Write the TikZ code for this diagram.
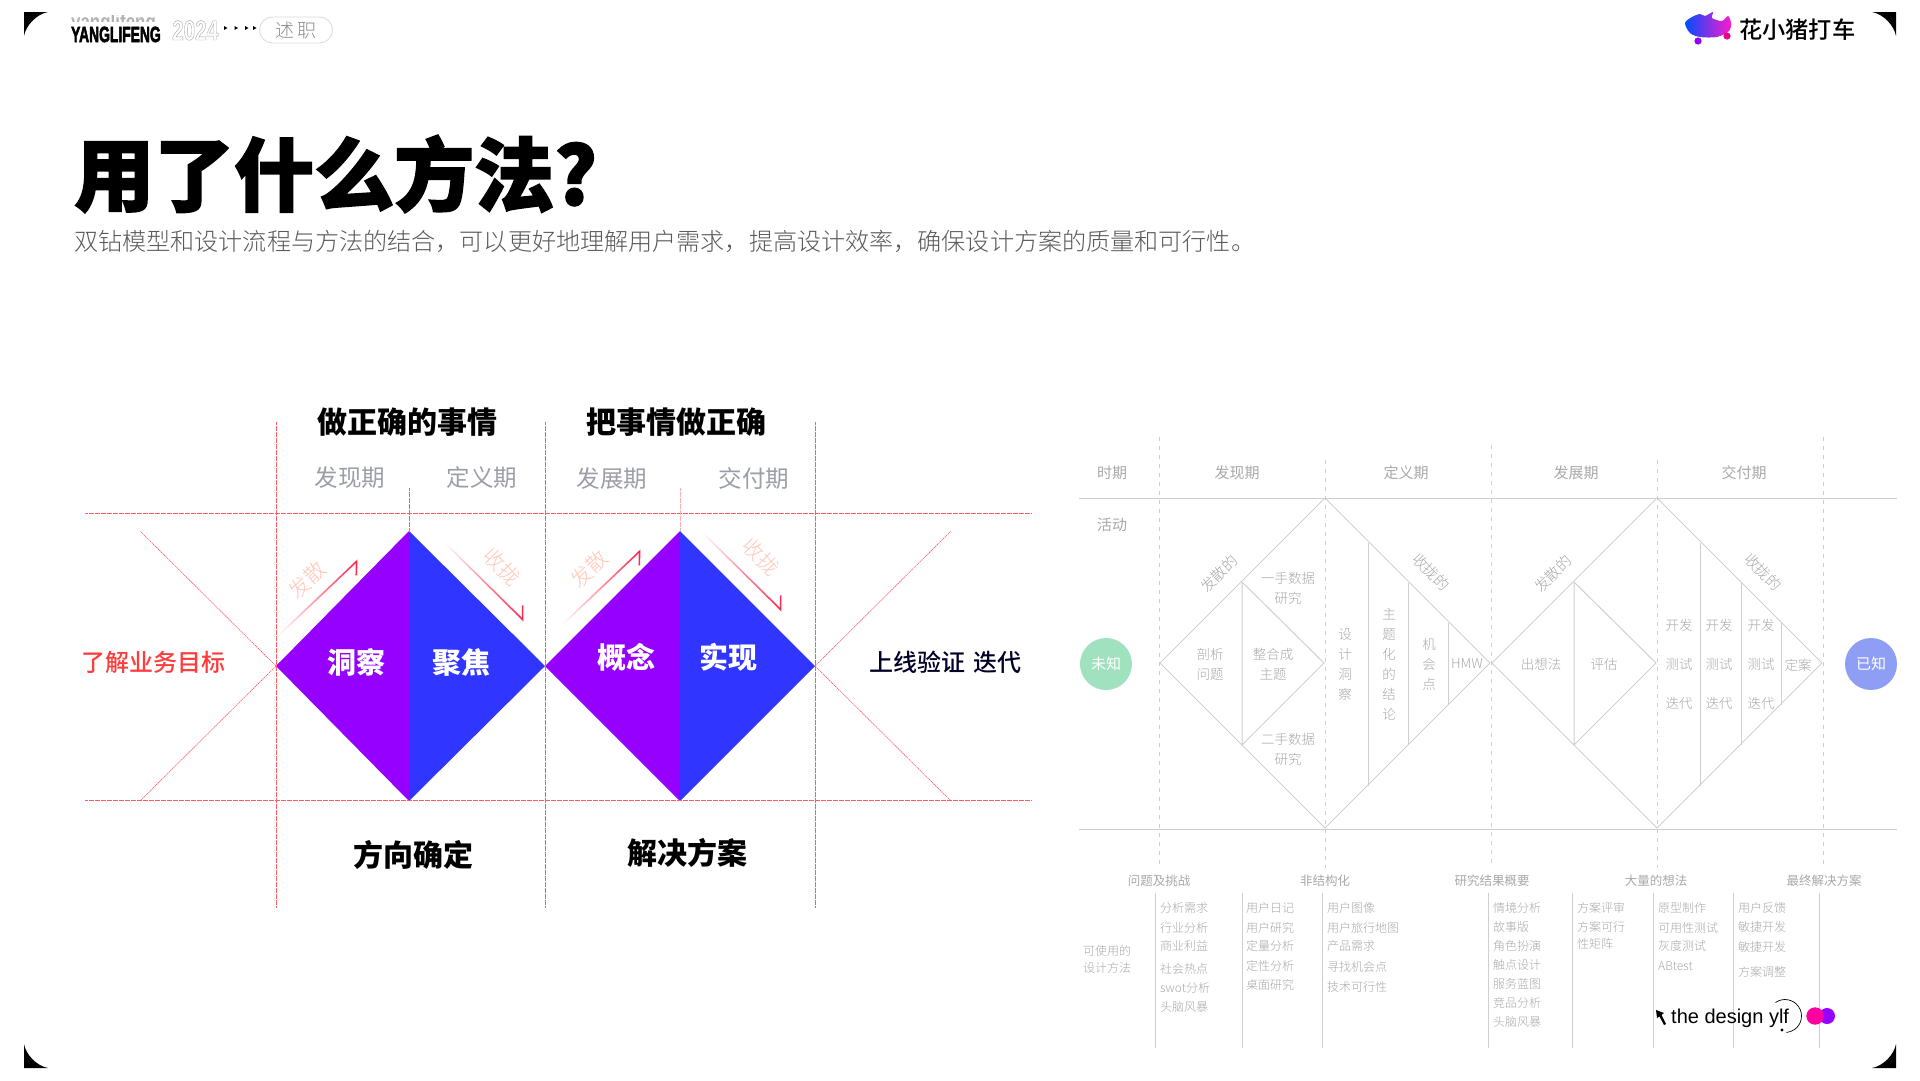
\documentclass[tikz,border=0pt]{standalone}
\usepackage{fontspec}
\setmainfont{Noto Sans CJK SC}
\newfontfamily\heavyfont{Noto Sans CJK SC Black}[FakeBold=2]
\newfontfamily\mediumfont{Noto Sans CJK SC Medium}
\newfontfamily\lightfont{Noto Sans CJK SC Light}
\newfontfamily\latinfont{Liberation Sans}
\usetikzlibrary{arrows.meta,positioning,shapes.geometric,fadings}
\definecolor{violetfill}{HTML}{9500FF}
\definecolor{bluefill}{HTML}{3035FF}
\definecolor{guidered}{HTML}{FF5A60}
\definecolor{trendred}{HTML}{FF1F48}
\definecolor{hintpink}{HTML}{FFC6B8}
\definecolor{softgray}{HTML}{9A9EA8}
\definecolor{palegray}{HTML}{A8A8A8}
\definecolor{ruleline}{HTML}{CFCFCF}
\definecolor{goalred}{HTML}{FF3C3C}
\definecolor{unknownfill}{HTML}{A0E1BF}
\definecolor{knownfill}{HTML}{8F9EF5}
\definecolor{dotpink}{HTML}{FF00A0}
\tikzfading[name=fadein, left color=transparent!100, right color=transparent!0]

\begin{document}
\begin{tikzpicture}[
    x=1pt, y=-1pt,
    guide/.style={draw=guidered, line width=0.8pt, dash pattern=on 0.8pt off 0.4pt},
    cross/.style={draw=guidered, line width=0.6pt, dash pattern=on 1.5pt off 0.7pt},
    trendarrow/.style={draw=trendred, line width=1.6pt, path fading=fadein},
    rule/.style={draw=ruleline, line width=1pt},
    dashrule/.style={draw=ruleline, line width=1pt, dash pattern=on 4pt off 5pt},
    head/.style={font=\bfseries\fontsize{30}{34}\selectfont, text=black},
    phase/.style={font=\fontsize{23.5}{28}\selectfont, text=softgray},
    stage/.style={font=\bfseries\fontsize{29}{34}\selectfont, text=white},
    hint/.style={font=\lightfont\fontsize{21}{25}\selectfont, text=hintpink},
    small/.style={font=\lightfont\fontsize{13.5}{20}\selectfont, text=palegray, align=center, inner sep=0pt},
    period/.style={font=\fontsize{15}{18}\selectfont, text=palegray},
    slanted/.style={font=\lightfont\fontsize{15}{18}\selectfont, text=palegray},
    state/.style={circle, minimum size=52pt, inner sep=0pt, text=white, font=\fontsize{15}{18}\selectfont},
    colhead/.style={font=\fontsize{12.5}{15}\selectfont, text=palegray},
    listitem/.style={font=\lightfont\fontsize{12}{15}\selectfont, text=palegray, anchor=west, inner sep=0pt},
    corner/.style={fill=black}
]
\useasboundingbox (0,0) rectangle (1920,1080);

\fill[corner] (24,12) -- (48,12) .. controls (37,14) and (26,25) .. (24,36) -- cycle;
\fill[corner] (1896,12) -- (1872,12) .. controls (1883,14) and (1894,25) .. (1896,36) -- cycle;
\fill[corner] (24,1068) -- (48,1068) .. controls (37,1066) and (26,1055) .. (24,1044) -- cycle;
\fill[corner] (1896,1068) -- (1872,1068) .. controls (1883,1066) and (1894,1055) .. (1896,1044) -- cycle;

\begin{scope}
\clip (60,15.5) rectangle (170,21.5);
\node[anchor=base west, inner sep=0pt, text=gray!60, xscale=0.77, font=\latinfont\bfseries\fontsize{22}{24}\selectfont] (nameghost) at (71,29) {yanglifeng};
\end{scope}
\node[anchor=base west, inner sep=0pt, xscale=0.63, font=\latinfont\bfseries\fontsize{22}{24}\selectfont] (brandname) at (71,42) {\special{pdf:code 2 Tr 0.7 w}YANGLIFENG\special{pdf:code 0 Tr}};
\node[anchor=base west, inner sep=0pt, xscale=0.74, text=gray!70, font=\latinfont\bfseries\fontsize{28}{30}\selectfont] (yearmark) at (172,40) {\special{pdf:code 1 Tr 0.45 w}2024\special{pdf:code 0 Tr}};
\foreach \x in {224,234.5,245,253}
    \fill (\x,26) -- (\x+3.5,28) -- (\x,30) -- cycle;
\node[draw=gray!30, line width=0.8pt, rounded corners=13pt, minimum width=73pt, minimum height=26pt, inner sep=0pt, text=gray!90, font=\lightfont\fontsize{19}{22}\selectfont] (reporttag) at (296,30) {述\,职};

\shade[left color=blue!70!cyan, middle color=violetfill!80!magenta, right color=magenta!80!orange]
    plot[smooth cycle] coordinates {(1685,23) (1692,17) (1700,14) (1705,16) (1713,12) (1712,18) (1722,21) (1728,16) (1731,23) (1729,31) (1717,37) (1700,37) (1690,33)};
\fill[violetfill] (1698,41) circle (3.6);
\fill[magenta!90!violetfill] (1727,36) circle (3.6);
\node[anchor=west, inner sep=0pt, font=\mediumfont\fontsize{23.2}{26}\selectfont] (logotext) at (1739,30) {花小猪打车};

\node[anchor=west, inner sep=0pt, font=\heavyfont\fontsize{80}{90}\selectfont] (maintitle) at (74,174) {用了什么方法?};
\node[anchor=west, inner sep=0pt, text=black!65, font=\lightfont\fontsize{24.1}{28}\selectfont] (subtitle) at (74,241) {双钻模型和设计流程与方法的结合，可以更好地理解用户需求，提高设计效率，确保设计方案的质量和可行性。};

\coordinate (lefta) at (276,666);
\coordinate (midb) at (545,666);
\coordinate (rightc) at (815,666);
\coordinate (topa) at (409,531);
\coordinate (bota) at (409,801);
\coordinate (topb) at (680,531);
\coordinate (botb) at (680,801);

\fill[violetfill] (lefta) -- (topa) -- (bota) -- cycle;
\fill[bluefill] (topa) -- (midb) -- (bota) -- cycle;
\fill[violetfill] (midb) -- (topb) -- (botb) -- cycle;
\fill[bluefill] (topb) -- (rightc) -- (botb) -- cycle;

\draw[guide] (85,513) -- (1031,513);
\draw[guide] (85,800) -- (1031,800);
\foreach \x in {276,545,815}
    \draw[guide] (\x,422) -- (\x,907);
\draw[guide] (409,488) -- (topa);
\draw[guide, draw=guidered!50] (680,488) -- (topb);
\draw[cross] (lefta) -- (140,531);
\draw[cross] (lefta) -- (140,801);
\draw[cross] (rightc) -- (951,531);
\draw[cross] (rightc) -- (951,801);

\coordinate (trenda) at (278,636);
\coordinate (trendaend) at (358,560);
\coordinate (trendb) at (445,543);
\coordinate (trendbend) at (524,621);
\coordinate (trendc) at (562,625);
\coordinate (trendcend) at (641,550);
\coordinate (trendd) at (703,533);
\coordinate (trenddend) at (782,611);
\draw[trendarrow, -{Straight Barb[length=10pt,width=20pt,harpoon,swap]}] (trenda) -- (trendaend);
\draw[trendarrow, -{Straight Barb[length=10pt,width=20pt,harpoon]}] (trendb) -- (trendbend);
\draw[trendarrow, -{Straight Barb[length=10pt,width=20pt,harpoon,swap]}] (trendc) -- (trendcend);
\draw[trendarrow, -{Straight Barb[length=10pt,width=20pt,harpoon]}] (trendd) -- (trenddend);

\node[head] (rightthing) at (407,422) {做正确的事情};
\node[head] (rightway) at (676,422) {把事情做正确};
\node[phase] (finda) at (350,478) {发现期};
\node[phase] (definea) at (482,478) {定义期};
\node[phase] (growa) at (612,479) {发展期};
\node[phase] (delivera) at (754,479) {交付期};
\node[stage] (insight) at (356,662) {洞察};
\node[stage] (focus) at (461,662) {聚焦};
\node[stage] (concept) at (626,657) {概念};
\node[stage] (build) at (728,657) {实现};
\node[hint, rotate=43] (spreada) at (307,580) {发散};
\node[hint, rotate=-45] (closea) at (502,567) {收拢};
\node[hint, rotate=43] (spreadb) at (589,569) {发散};
\node[hint, rotate=-45] (closeb) at (761,557) {收拢};
\node[font=\mediumfont\fontsize{24}{28}\selectfont, text=goalred] (goal) at (153,662) {了解业务目标};
\node[font=\mediumfont\fontsize{24}{28}\selectfont, text=black!85!blue] (launch) at (945,662) {上线验证\,\,迭代};
\node[head] (direction) at (413,855) {方向确定};
\node[head] (solution) at (687,853) {解决方案};

\draw[rule] (1079,498) -- (1897,498);
\draw[rule] (1079,829) -- (1897,829);
\foreach \x/\y in {1159/437,1325/460,1491/445,1657/460,1823/437}
    \draw[dashrule] (\x,\y) -- (\x,868);

\draw[rule] (1160,663) -- (1325,498) -- (1490,663) -- (1325,828) -- cycle;
\draw[rule] (1242,582) -- (1324,663) -- (1242,745) -- cycle;
\draw[rule] (1368,543) -- (1368,786);
\draw[rule] (1408,583) -- (1408,745);
\draw[rule] (1448,623) -- (1448,705);
\draw[rule] (1492,663) -- (1657,498) -- (1822,663) -- (1657,828) -- cycle;
\draw[rule] (1574,582) -- (1656,663) -- (1574,745) -- cycle;
\draw[rule] (1700,543) -- (1700,786);
\draw[rule] (1741,583) -- (1741,745);
\draw[rule] (1781,623) -- (1781,705);

\node[period] (phaselabel) at (1112,473) {时期};
\node[period] (findb) at (1237,473) {发现期};
\node[period] (defineb) at (1406,473) {定义期};
\node[period] (growb) at (1576,473) {发展期};
\node[period] (deliverb) at (1744,473) {交付期};
\node[period] (activity) at (1112,525) {活动};
\node[state, fill=unknownfill] (unknown) at (1106,664) {未知};
\node[state, fill=knownfill] (known) at (1871,664) {已知};
\node[slanted, rotate=45] (spreadc) at (1219,574) {发散的};
\node[slanted, rotate=-45] (closec) at (1431,572) {收拢的};
\node[slanted, rotate=45] (spreadd) at (1553,574) {发散的};
\node[slanted, rotate=-45] (closed) at (1763,572) {收拢的};

\foreach \x/\y/\t [count=\i] in {
    1210/664/{剖析\\问题}, 1273/664/{整合成\\主题}, 1288/588/{一手数据\\研究}, 1288/749/{二手数据\\研究},
    1345/664/{设\\计\\洞\\察}, 1389/664/{主\\题\\化\\的\\结\\论}, 1429/664/{机\\会\\点}, 1467/664/{HMW},
    1541/664/{出想法}, 1604/664/{评估},
    1679/625/{开发}, 1719/625/{开发}, 1761/625/{开发},
    1679/664/{测试}, 1719/664/{测试}, 1761/664/{测试},
    1679/703/{迭代}, 1719/703/{迭代}, 1761/703/{迭代}, 1798/665/{定案}}
    \node[small] (cell\i) at (\x,\y) {\t};

\foreach \x/\t [count=\i] in {1159/问题及挑战,1325/非结构化,1492/研究结果概要,1656/大量的想法,1824/最终解决方案}
    \node[colhead] (column\i) at (\x,881) {\t};
\foreach \x in {1155,1242,1322,1488,1572,1653,1733,1819}
    \draw[rule, line width=0.9pt] (\x,893) -- (\x,1048);

\foreach \x/\y/\t [count=\i] in {
    1083/951/可使用的, 1083/968/设计方法,
    1160/908/分析需求, 1160/928/行业分析, 1160/946/商业利益, 1160/969/社会热点, 1160/988/swot分析, 1160/1007/头脑风暴,
    1246/908/用户日记, 1246/928/用户研究, 1246/946/定量分析, 1246/966/定性分析, 1246/985/桌面研究,
    1327/908/用户图像, 1327/928/用户旅行地图, 1327/946/产品需求, 1327/967/寻找机会点, 1327/987/技术可行性,
    1493/908/情境分析, 1493/927/故事版, 1493/946/角色扮演, 1493/965/触点设计, 1493/984/服务蓝图, 1493/1003/竞品分析, 1493/1022/头脑风暴,
    1577/908/方案评审, 1577/927/方案可行, 1577/944/性矩阵,
    1658/908/原型制作, 1658/928/可用性测试, 1658/946/灰度测试, 1658/966/ABtest,
    1738/908/用户反馈, 1738/927/敏捷开发, 1738/947/敏捷开发, 1738/972/方案调整}
    \node[listitem] (item\i) at (\x,\y) {\t};

\fill (1656,1010) -- (1664,1013) -- (1661.5,1015) -- (1666,1024) -- (1664,1025) -- (1659.5,1016.5) -- (1657,1018) -- cycle;
\node[anchor=west, inner sep=0pt, font=\latinfont\fontsize{20}{24}\selectfont] (designtag) at (1671,1018) {the design ylf};
\coordinate (ringcentre) at (1785,1016);
\draw[line width=0.7pt] (ringcentre) ++(-125:16.5) arc[start angle=-125, end angle=85, radius=16.5];
\fill (1782,1030) circle (1.7);
\fill[violetfill] (1827,1016) circle (8);
\fill[dotpink] (1815,1016) circle (8.7);
\end{tikzpicture}
\end{document}
